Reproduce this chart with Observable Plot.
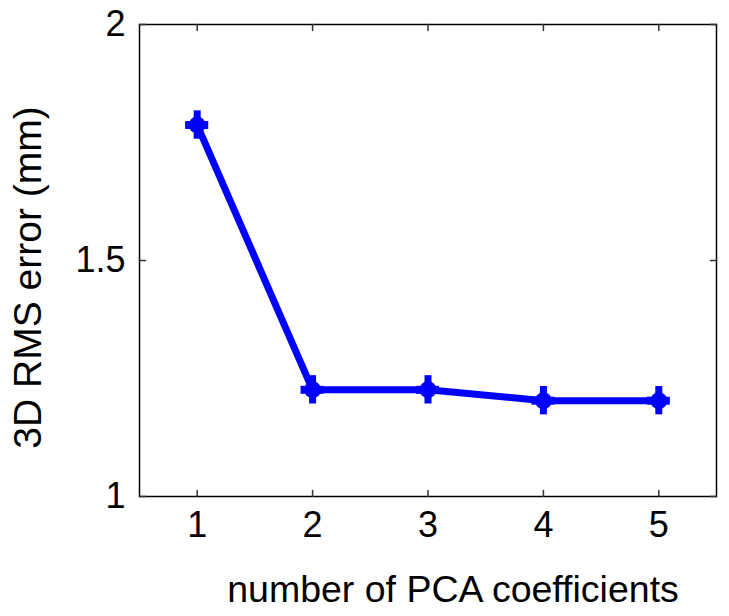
<!DOCTYPE html>
<html><head><meta charset="utf-8">
<script src="https://cdn.jsdelivr.net/npm/d3@7"></script>
<script src="https://cdn.jsdelivr.net/npm/@observablehq/plot@0.6"></script>
<style>body{margin:0;background:#fff}</style>
</head><body><div id="chart"></div>
<script>
const coeffs = [1, 2, 3, 4, 5];
const rmsError = [1.787, 1.226, 1.226, 1.203, 1.203];
const yErr = [0.03, 0.03, 0.03, 0.03, 0.03];
const xErr = [0.1, 0.1, 0.1, 0.1, 0.1];
const xTicks = [1, 2, 3, 4, 5];
const yTicks = [1, 1.5, 2];
const xLabel = "number of PCA coefficients";
const yLabel = "3D RMS error (mm)";

const data = coeffs.map((c, i) => ({x: c, y: rmsError[i], ey: yErr[i], ex: xErr[i]}));
const blue = "#0000ff";
const tickShape = {draw(ctx, l) { ctx.moveTo(0, 0); ctx.lineTo(0, -l); }};
const font = "Liberation Sans, Arial, Helvetica, sans-serif";

const plot = Plot.plot({
  width: 729, height: 616,
  marginLeft: 139, marginRight: 13, marginTop: 24, marginBottom: 120,
  style: {fontFamily: font, background: "#fff"},
  x: {domain: [0.5, 5.5]},
  y: {domain: [1, 2]},
  marks: [
    Plot.frame({stroke: "#000", strokeWidth: 1.5}),
    Plot.vector(xTicks, {x: d => d, y: yTicks[0], length: 6, rotate: 0, anchor: "start", shape: tickShape, stroke: "#333", strokeWidth: 1.5}),
    Plot.vector(xTicks, {x: d => d, y: yTicks[yTicks.length - 1], length: 6, rotate: 180, anchor: "start", shape: tickShape, stroke: "#333", strokeWidth: 1.5}),
    Plot.vector(yTicks, {y: d => d, x: 0.5, length: 6, rotate: 90, anchor: "start", shape: tickShape, stroke: "#333", strokeWidth: 1.5}),
    Plot.vector(yTicks, {y: d => d, x: 5.5, length: 6, rotate: -90, anchor: "start", shape: tickShape, stroke: "#333", strokeWidth: 1.5}),
    Plot.axisX({ticks: xTicks, tickSize: 0, tickPadding: 15, fontSize: 36, tickFormat: d => String(d), label: null, color: "#000"}),
    Plot.axisY({ticks: yTicks, tickSize: 0, tickPadding: 14, fontSize: 36, tickFormat: d => String(d), label: null, color: "#000"}),
    Plot.line(data, {x: "x", y: "y", stroke: blue, strokeWidth: 7, strokeLinejoin: "round"}),
    Plot.ruleX(data, {x: "x", y1: d => d.y - d.ey, y2: d => d.y + d.ey, stroke: blue, strokeWidth: 7}),
    Plot.ruleY(data, {y: "y", x1: d => d.x - d.ex, x2: d => d.x + d.ex, stroke: blue, strokeWidth: 8}),
    Plot.dot(data, {x: "x", y: "y", r: 8.5, fill: blue, symbol: "circle"}),
    Plot.text([xLabel], {text: d => d, frameAnchor: "bottom", dx: 25, dy: 93, fontSize: 37.5, fill: "#000", lineAnchor: "middle"}),
    Plot.text([yLabel], {text: d => d, frameAnchor: "left", textAnchor: "middle", dx: -111, dy: 17, rotate: -90, fontSize: 39, fill: "#000", lineAnchor: "middle"})
  ]
});
document.getElementById("chart").append(plot);
</script></body></html>
